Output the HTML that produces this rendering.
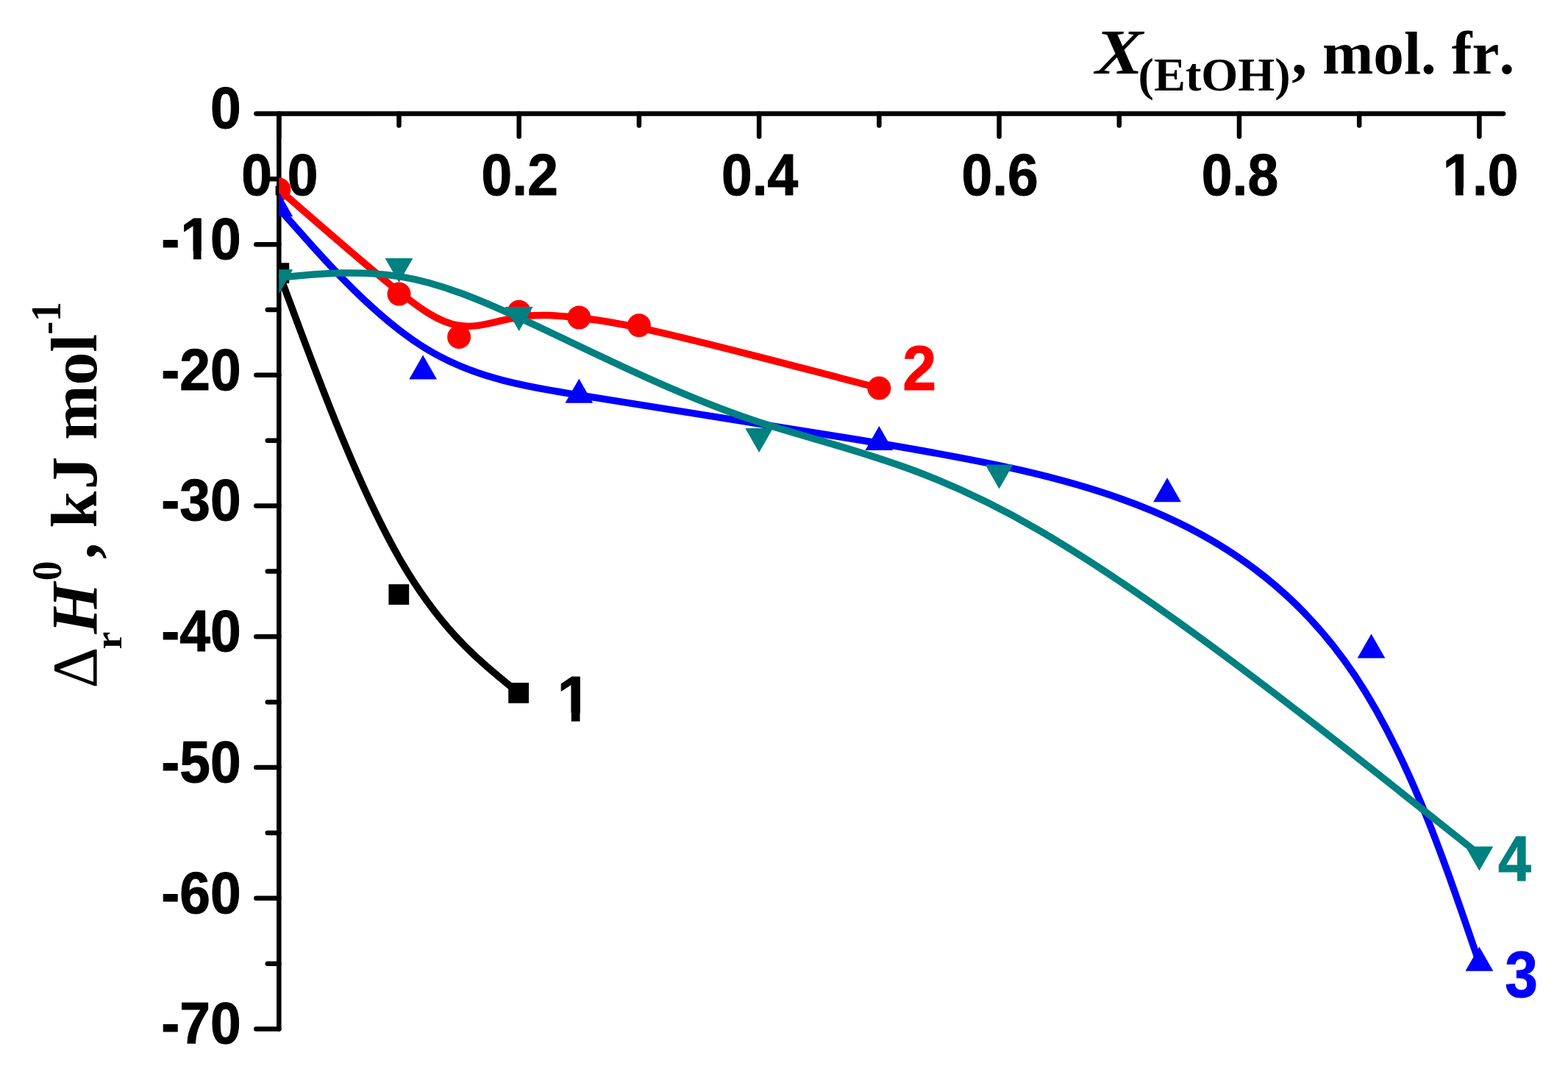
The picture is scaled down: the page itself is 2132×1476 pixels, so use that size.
<!DOCTYPE html>
<html lang="en"><head><meta charset="utf-8"><title>Chart</title>
<style>html,body{margin:0;padding:0;background:#fff;overflow:hidden}svg{display:block}text{font-kerning:none;font-variant-ligatures:none}.sb{font-family:"Liberation Sans",sans-serif;font-weight:bold}.tb{font-family:"Liberation Serif",serif;font-weight:bold}.tr{font-family:"Liberation Serif",serif;font-weight:normal}.ti{font-family:"Liberation Serif",serif;font-weight:bold;font-style:italic}</style></head><body>
<svg width="2132" height="1476" viewBox="0 0 2132 1476">
<rect width="2132" height="1476" fill="#fff"/>
<g stroke="#000" stroke-width="6.5" stroke-linecap="round" fill="none">
<line x1="348.4" y1="154.4" x2="2044" y2="154.4"/>
<line x1="379.3" y1="154.4" x2="379.3" y2="1398.51"/>
<line x1="379.30" y1="154.4" x2="379.30" y2="185.40"/>
<line x1="542.51" y1="154.4" x2="542.51" y2="170.40"/>
<line x1="705.72" y1="154.4" x2="705.72" y2="185.40"/>
<line x1="868.93" y1="154.4" x2="868.93" y2="170.40"/>
<line x1="1032.14" y1="154.4" x2="1032.14" y2="185.40"/>
<line x1="1195.35" y1="154.4" x2="1195.35" y2="170.40"/>
<line x1="1358.56" y1="154.4" x2="1358.56" y2="185.40"/>
<line x1="1521.77" y1="154.4" x2="1521.77" y2="170.40"/>
<line x1="1684.98" y1="154.4" x2="1684.98" y2="185.40"/>
<line x1="1848.19" y1="154.4" x2="1848.19" y2="170.40"/>
<line x1="2011.40" y1="154.4" x2="2011.40" y2="185.40"/>
<line x1="379.3" y1="243.26" x2="363.80" y2="243.26"/>
<line x1="379.3" y1="332.13" x2="348.30" y2="332.13"/>
<line x1="379.3" y1="421.00" x2="363.80" y2="421.00"/>
<line x1="379.3" y1="509.86" x2="348.30" y2="509.86"/>
<line x1="379.3" y1="598.73" x2="363.80" y2="598.73"/>
<line x1="379.3" y1="687.59" x2="348.30" y2="687.59"/>
<line x1="379.3" y1="776.45" x2="363.80" y2="776.45"/>
<line x1="379.3" y1="865.32" x2="348.30" y2="865.32"/>
<line x1="379.3" y1="954.18" x2="363.80" y2="954.18"/>
<line x1="379.3" y1="1043.05" x2="348.30" y2="1043.05"/>
<line x1="379.3" y1="1131.91" x2="363.80" y2="1131.91"/>
<line x1="379.3" y1="1220.78" x2="348.30" y2="1220.78"/>
<line x1="379.3" y1="1309.64" x2="363.80" y2="1309.64"/>
<line x1="379.3" y1="1398.51" x2="348.30" y2="1398.51"/>
</g>
<g>
<text class="sb" transform="translate(380.30,265.20) scale(1,1.055)" x="-52.13 -10.42 10.42" y="0" font-size="75.0" fill="#000" stroke="#000" stroke-width="1" stroke-linejoin="round">0.0</text>
<text class="sb" transform="translate(706.72,265.20) scale(1,1.055)" x="-52.13 -10.42 10.42" y="0" font-size="75.0" fill="#000" stroke="#000" stroke-width="1" stroke-linejoin="round">0.2</text>
<text class="sb" transform="translate(1033.14,265.20) scale(1,1.055)" x="-52.13 -10.42 10.42" y="0" font-size="75.0" fill="#000" stroke="#000" stroke-width="1" stroke-linejoin="round">0.4</text>
<text class="sb" transform="translate(1359.56,265.20) scale(1,1.055)" x="-52.13 -10.42 10.42" y="0" font-size="75.0" fill="#000" stroke="#000" stroke-width="1" stroke-linejoin="round">0.6</text>
<text class="sb" transform="translate(1685.98,265.20) scale(1,1.055)" x="-52.13 -10.42 10.42" y="0" font-size="75.0" fill="#000" stroke="#000" stroke-width="1" stroke-linejoin="round">0.8</text>
<clipPath id="k1"><path clip-rule="evenodd" d="M-72.1 -75.0H72.1V22.5H-72.1ZM-47.73 -10.15H-33.36V3H-47.73ZM-22.81 -10.15H-9.48V3H-22.81Z"/></clipPath><text class="sb" transform="translate(2012.40,265.20) scale(1,1.055)" clip-path="url(#k1)" x="-50.73 -10.42 10.42" y="0" font-size="75.0" fill="#000" stroke="#000" stroke-width="1" stroke-linejoin="round">1.0</text>
<text class="sb" transform="translate(327.60,174.30) scale(1,1.055)" x="-41.71" y="0" font-size="75.0" fill="#000" stroke="#000" stroke-width="1" stroke-linejoin="round">0</text>
<clipPath id="k2"><path clip-rule="evenodd" d="M-128.4 -75.0H20.0V22.5H-128.4ZM-79.02 -10.15H-64.65V3H-79.02ZM-54.10 -10.15H-40.77V3H-54.10Z"/></clipPath><text class="sb" transform="translate(327.60,352.03) scale(1,1.055)" clip-path="url(#k2)" x="-108.40 -82.02 -41.71" y="0" font-size="75.0" fill="#000" stroke="#000" stroke-width="1" stroke-linejoin="round">-10</text>
<text class="sb" transform="translate(327.60,529.76) scale(1,1.055)" x="-108.40 -83.42 -41.71" y="0" font-size="75.0" fill="#000" stroke="#000" stroke-width="1" stroke-linejoin="round">-20</text>
<text class="sb" transform="translate(327.60,707.49) scale(1,1.055)" x="-108.40 -83.42 -41.71" y="0" font-size="75.0" fill="#000" stroke="#000" stroke-width="1" stroke-linejoin="round">-30</text>
<text class="sb" transform="translate(327.60,885.22) scale(1,1.055)" x="-108.40 -83.42 -41.71" y="0" font-size="75.0" fill="#000" stroke="#000" stroke-width="1" stroke-linejoin="round">-40</text>
<text class="sb" transform="translate(327.60,1062.95) scale(1,1.055)" x="-108.40 -83.42 -41.71" y="0" font-size="75.0" fill="#000" stroke="#000" stroke-width="1" stroke-linejoin="round">-50</text>
<text class="sb" transform="translate(327.60,1240.68) scale(1,1.055)" x="-108.40 -83.42 -41.71" y="0" font-size="75.0" fill="#000" stroke="#000" stroke-width="1" stroke-linejoin="round">-60</text>
<text class="sb" transform="translate(327.60,1418.41) scale(1,1.055)" x="-108.40 -83.42 -41.71" y="0" font-size="75.0" fill="#000" stroke="#000" stroke-width="1" stroke-linejoin="round">-70</text>
</g>
<g fill="#000">
<text class="ti" transform="translate(1489.2,100) scale(1.17,1.045)" font-size="83.3">X</text>
<text class="tb" x="1547.6" y="122.8" font-size="64.3">(EtOH)</text>
<text class="tb" x="1756.3" y="100" font-size="83.3">, mol. fr.</text>
</g>
<g transform="translate(130.7,940) rotate(-90)" fill="#000">
<text class="tr" x="4.6" y="0" font-size="87">Δ</text>
<text class="tb" x="57.4" y="34.6" font-size="53.8">r</text>
<text class="ti" x="78.5" y="0" font-size="89.6">H</text>
<text class="tb" transform="translate(150.8,-47.6) scale(1,1.05)" font-size="53.8">0</text>
<text class="tb" x="180.1" y="0" font-size="89.6">, <tspan dx="-2.4">k</tspan><tspan dx="2.4">J</tspan> mol</text>
<text class="tb" transform="translate(485.2,-48.6) scale(1,1.05)" font-size="53.8">-1</text>
</g>
<defs><clipPath id="plot"><rect x="379.3" y="154.4" width="1670.7" height="1248.11"/></clipPath></defs>
<g clip-path="url(#plot)">
<path d="M379.30 371.20C379.30 371.20 379.30 371.20 406.47 444.00C433.64 516.80 487.97 662.40 542.28 757.50C596.58 852.60 650.85 897.20 677.99 919.50C705.12 941.80 705.12 941.80 705.12 941.80" fill="none" stroke="#000000" stroke-width="9.5" stroke-linejoin="round" stroke-linecap="butt"/>
<rect x="365.40" y="357.30" width="27.8" height="27.8" fill="#000000"/>
<rect x="528.41" y="794.10" width="27.8" height="27.8" fill="#000000"/>
<rect x="691.22" y="927.90" width="27.8" height="27.8" fill="#000000"/>
<path d="M379.30 257.50C379.30 257.50 379.30 257.50 406.50 281.18C433.70 304.87 488.11 352.23 528.91 385.65C569.71 419.07 596.91 438.53 624.12 442.55C651.32 446.57 678.52 435.13 705.72 430.73C732.92 426.33 760.12 428.97 787.33 432.05C814.53 435.13 841.73 438.67 909.73 454.65C977.74 470.63 1086.54 499.07 1140.95 513.28C1195.35 527.50 1195.35 527.50 1195.35 527.50" fill="none" stroke="#ff0000" stroke-width="9.5" stroke-linejoin="round" stroke-linecap="butt"/>
<circle cx="379.30" cy="257.50" r="16.0" fill="#ff0000"/>
<circle cx="542.51" cy="399.60" r="16.0" fill="#ff0000"/>
<circle cx="624.12" cy="458.00" r="16.0" fill="#ff0000"/>
<circle cx="705.72" cy="423.70" r="16.0" fill="#ff0000"/>
<circle cx="787.33" cy="431.60" r="16.0" fill="#ff0000"/>
<circle cx="868.93" cy="442.20" r="16.0" fill="#ff0000"/>
<circle cx="1195.35" cy="527.50" r="16.0" fill="#ff0000"/>
<path d="M379.30 283.30C379.30 283.30 379.30 283.30 411.94 320.18C444.58 357.07 509.87 430.83 577.87 473.07C645.88 515.30 716.60 526.00 819.97 542.07C923.33 558.13 1059.34 579.57 1192.63 602.00C1325.92 624.43 1456.49 647.87 1568.01 694.93C1679.54 742.00 1772.03 812.70 1842.75 918.93C1913.47 1025.17 1962.44 1166.93 1986.92 1237.82C2011.40 1308.70 2011.40 1308.70 2011.40 1308.70" fill="none" stroke="#0000ff" stroke-width="9.5" stroke-linejoin="round" stroke-linecap="butt"/>
<path d="M379.30 261.30L398.20 294.30L360.40 294.30Z" fill="#0000ff"/>
<path d="M575.15 482.60L594.05 515.60L556.25 515.60Z" fill="#0000ff"/>
<path d="M787.33 514.70L806.23 547.70L768.43 547.70Z" fill="#0000ff"/>
<path d="M1195.35 579.00L1214.25 612.00L1176.45 612.00Z" fill="#0000ff"/>
<path d="M1587.05 649.30L1605.95 682.30L1568.15 682.30Z" fill="#0000ff"/>
<path d="M1864.51 861.40L1883.41 894.40L1845.61 894.40Z" fill="#0000ff"/>
<path d="M2011.40 1286.70L2030.30 1319.70L1992.50 1319.70Z" fill="#0000ff"/>
<path d="M379.30 377.30C379.30 377.30 379.30 377.30 406.50 374.77C433.70 372.23 488.11 367.17 542.51 375.60C596.91 384.03 651.32 405.97 732.92 444.45C814.53 482.93 923.33 537.97 1032.14 573.75C1140.95 609.53 1249.75 626.07 1412.96 720.80C1576.17 815.53 1793.79 988.47 1902.59 1074.93C2011.40 1161.40 2011.40 1161.40 2011.40 1161.40" fill="none" stroke="#008080" stroke-width="9.5" stroke-linejoin="round" stroke-linecap="butt"/>
<path d="M379.30 399.30L398.20 366.30L360.40 366.30Z" fill="#008080"/>
<path d="M542.51 384.10L561.41 351.10L523.61 351.10Z" fill="#008080"/>
<path d="M705.72 449.90L724.62 416.90L686.82 416.90Z" fill="#008080"/>
<path d="M1032.14 615.00L1051.04 582.00L1013.24 582.00Z" fill="#008080"/>
<path d="M1358.56 664.60L1377.46 631.60L1339.66 631.60Z" fill="#008080"/>
<path d="M2011.40 1183.40L2030.30 1150.40L1992.50 1150.40Z" fill="#008080"/>
</g>
<clipPath id="k3"><path clip-rule="evenodd" d="M-20.0 -83.3H66.3V25.0H-20.0ZM4.33 -11.00H20.31V3H4.33ZM32.00 -11.00H46.82V3H32.00Z"/></clipPath><text class="sb" transform="translate(756.50,980.40) scale(1,1.055)" clip-path="url(#k3)" x="1.00" y="0" font-size="83.3" fill="#000000" stroke="#000000" stroke-width="1" stroke-linejoin="round">1</text>
<text class="sb" transform="translate(1227.20,530.20) scale(0.99,1.03)" x="0.00" y="0" font-size="83.3" fill="#ff0000" stroke="#ff0000" stroke-width="1" stroke-linejoin="round">2</text>
<text class="sb" transform="translate(2046.20,1354.90) scale(0.965,1.064)" x="0.00" y="0" font-size="83.3" fill="#0000ff" stroke="#0000ff" stroke-width="1" stroke-linejoin="round">3</text>
<text class="sb" transform="translate(2037.00,1196.80) scale(0.97,1.05)" x="0.00" y="0" font-size="83.3" fill="#008080" stroke="#008080" stroke-width="1" stroke-linejoin="round">4</text>
</svg>
</body></html>
